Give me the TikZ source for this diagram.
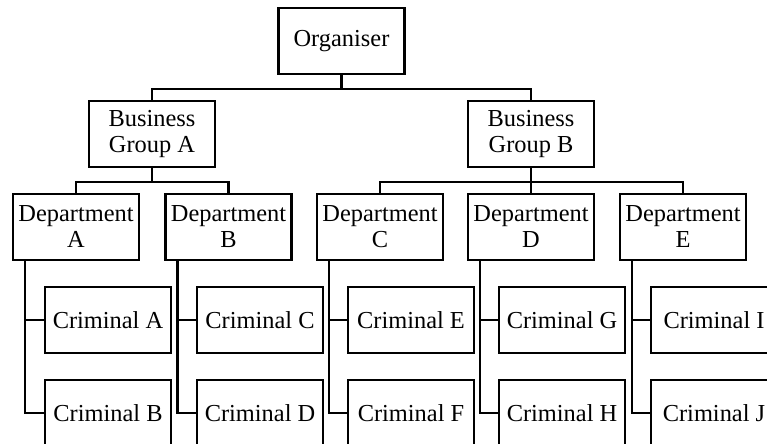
\documentclass[tikz,border=0pt]{standalone}
\usepackage{fontspec}
\setmainfont{Liberation Serif}
\begin{document}
\begin{tikzpicture}[x=0.5pt, y=-0.5pt, line width=1.25pt,
  every node/.style={draw, line width=1.25pt, minimum width=63pt, minimum height=33pt,
    inner sep=0pt, align=center, font=\fontsize{12.2}{13}\selectfont}]
\useasboundingbox (0,0) rectangle (767,444);
\clip (0,0) rectangle (767,444);
% Nodes
\node (org) at (341.5,41) {Organiser};
\node (bga) at (152,134) {Business\\Group A};
\node (bgb) at (531,134) {Business\\Group B};

\node (depa) at (76,227) {Department\\A};
\node (depb) at (228.5,227) {Department\\B};
\node (depc) at (380,227) {Department\\C};
\node (depd) at (531,227) {Department\\D};
\node (depe) at (683,227) {Department\\E};

\node (cria) at (108,320) {Criminal A};
\node (crib) at (108,413) {Criminal B};
\node (cric) at (260,320) {Criminal C};
\node (crid) at (260,413) {Criminal D};
\node (crie) at (411,320) {Criminal E};
\node (crif) at (411,413) {Criminal F};
\node (crig) at (562,320) {Criminal G};
\node (crih) at (562,413) {Criminal H};
\node (crii) at (714,320) {Criminal I};
\node (crij) at (714,413) {Criminal J};

% Lines
\draw (org.south) -- ++(0,14) -| (bga.north);
\draw (org.south) -- ++(0,14) -| (bgb.north);
\draw (bga.south) -- ++(0,14) -| (depa.north);
\draw (bga.south) -- ++(0,14) -| (depb.north);
\draw (bgb.south) -- ++(0,14) -| (depc.north);
\draw (bgb.south) -- ++(0,14) -| (depd.north);
\draw (bgb.south) -- ++(0,14) -| (depe.north);

\draw ([xshift=6.5pt]depa.south west) |- (cria.west);
\draw ([xshift=6.5pt]depa.south west) |- (crib.west);
\draw ([xshift=6.5pt]depb.south west) |- (cric.west);
\draw ([xshift=6.5pt]depb.south west) |- (crid.west);
\draw ([xshift=6.5pt]depc.south west) |- (crie.west);
\draw ([xshift=6.5pt]depc.south west) |- (crif.west);
\draw ([xshift=6.5pt]depd.south west) |- (crig.west);
\draw ([xshift=6.5pt]depd.south west) |- (crih.west);
\draw ([xshift=6.5pt]depe.south west) |- (crii.west);
\draw ([xshift=6.5pt]depe.south west) |- (crij.west);

\end{tikzpicture}
\end{document}
